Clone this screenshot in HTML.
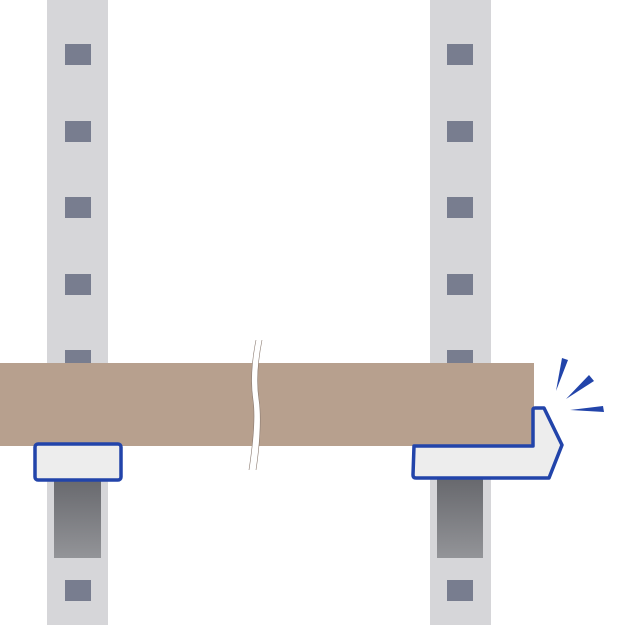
<!DOCTYPE html>
<html><head><style>html,body{margin:0;padding:0;background:#fff}</style></head>
<body>
<svg width="625" height="625" viewBox="0 0 625 625" xmlns="http://www.w3.org/2000/svg">
<defs>
<linearGradient id="g" x1="0" y1="0" x2="0" y2="1">
<stop offset="0" stop-color="#67686d"/><stop offset="1" stop-color="#939498"/>
</linearGradient>
</defs>
<rect x="47" y="0" width="61" height="625" fill="#d6d6d9"/>
<rect x="430" y="0" width="61" height="625" fill="#d6d6d9"/>
<g fill="#787d8f">
<rect x="65" y="44" width="26" height="21"/><rect x="65" y="121" width="26" height="21"/>
<rect x="65" y="197" width="26" height="21"/><rect x="65" y="274" width="26" height="21"/>
<rect x="65" y="350" width="26" height="21"/><rect x="65" y="580" width="26" height="21"/>
<rect x="447" y="44" width="26" height="21"/><rect x="447" y="121" width="26" height="21"/>
<rect x="447" y="197" width="26" height="21"/><rect x="447" y="274" width="26" height="21"/>
<rect x="447" y="350" width="26" height="21"/><rect x="447" y="580" width="26" height="21"/>
</g>
<rect x="54" y="478" width="47" height="80" fill="url(#g)"/>
<rect x="437" y="478" width="46" height="80" fill="url(#g)"/>
<rect x="0" y="363" width="534" height="83" fill="#b7a08e"/>
<path d="M256,340 C252,360 250,380 253,400 C256,420 252,450 249,470 L256,470 C259,450 262,420 259,400 C256,380 258,360 262,340 Z" fill="#fff"/>
<path d="M256,340 C252,360 250,380 253,400 C256,420 252,450 249,470 M262,340 C258,360 256,380 259,400 C262,420 259,450 256,470" fill="none" stroke="#8a7a70" stroke-width="0.6"/>
<rect x="35" y="444" width="86" height="36" rx="3" fill="#ededed" stroke="#2244aa" stroke-width="3.5"/>
<path d="M414,446 L533,446 L533,410 Q533,408 535,408 L544,408 L562,445 L549,478 L416,478 Q413,478 413,475 Z" fill="#ededed" stroke="#2244aa" stroke-width="3.5" stroke-linejoin="round"/>
<g fill="#2244aa">
<polygon points="562,358 568,360 556,391"/>
<polygon points="589,375 594,381 566,399"/>
<polygon points="570,410 603,406 604,412"/>
</g>
</svg>
</body></html>
